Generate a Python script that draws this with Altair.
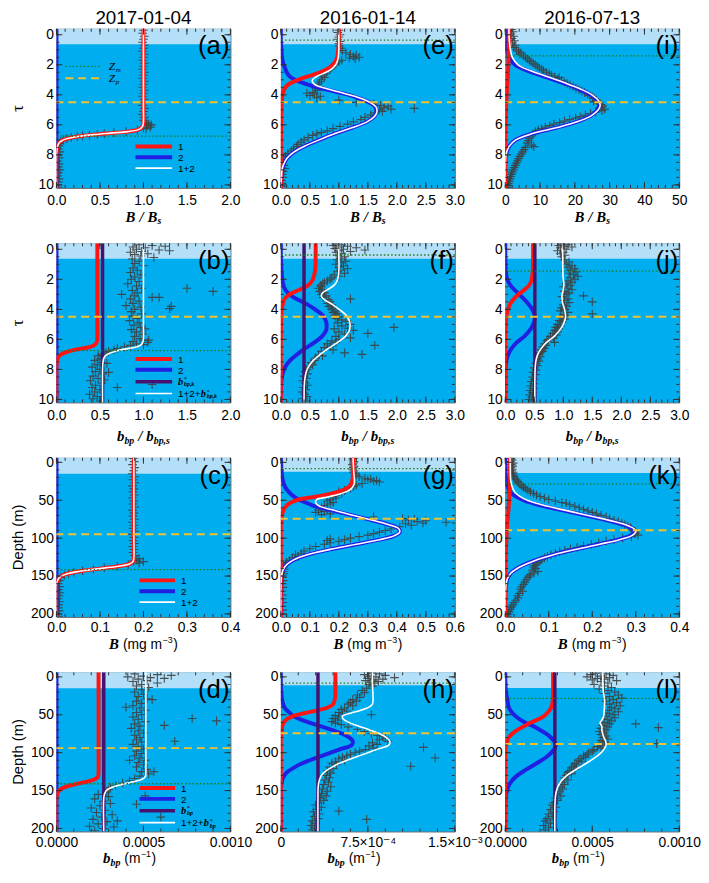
import altair as alt
import pandas as pd

SANS = "Liberation Sans, Arial, DejaVu Sans"
SERIF = "Liberation Serif, Times New Roman, DejaVu Serif"
BG = "#00AEEF"
BAND = "#B3E0F8"
RED = "#FF1414"
BLUE = "#2020E4"
PURPLE = "#46126E"
GREY = "#404040"
ZM_C = "#1F7A1F"
ZP_C = "#F2C12E"
TICK = "#303030"
W, H = 176, 161
LF = 10  # legend label font size

COL_TITLES = ["2017-01-04", "2016-01-14", "2016-07-13"]

# ---------------- data: (y, red=1, blue=2, white=1+2[+b*]) ----------------
a_curve = [(-0.4, 1.0, 0.0, 1.0), (1.0, 1.0, 0.0, 1.0), (3.0, 1.0, 0.0, 1.0), (5.0, 1.0, 0.0, 1.0),
           (5.8, 1.0, 0.0, 1.0), (6.1, 0.99, 0.0, 0.99), (6.3, 0.95, 0.0, 0.95), (6.45, 0.82, 0.0, 0.82),
           (6.55, 0.62, 0.0, 0.62), (6.65, 0.43, 0.0, 0.43), (6.75, 0.28, 0.0, 0.28), (6.85, 0.17, 0.0, 0.17),
           (7.0, 0.08, 0.0, 0.08), (7.2, 0.03, 0.0, 0.03), (7.5, 0.01, 0.0, 0.01), (8.0, 0.0, 0.0, 0.0),
           (10.2, 0.0, 0.0, 0.0)]
a_pts = [(-0.3, 1.0), (-0.1, 0.99), (0.1, 1.01), (0.3, 1.0), (0.5, 0.99), (0.7, 1.01), (0.9, 1.0), (1.1, 0.99),
         (1.3, 1.01), (1.5, 1.0), (1.7, 0.99), (1.9, 1.01), (2.1, 1.0), (2.3, 0.99), (2.5, 1.01), (2.7, 1.0),
         (2.9, 0.99), (3.1, 1.01), (3.3, 1.0), (3.5, 0.99), (3.7, 1.01), (3.9, 1.0), (4.1, 0.99), (4.3, 1.01),
         (4.5, 1.0), (4.7, 0.99), (4.9, 1.01), (5.1, 1.0), (5.3, 0.99), (5.5, 1.01), (5.7, 1.0), (5.85, 1.03),
         (5.95, 1.06), (6.05, 1.04), (6.15, 1.08), (6.25, 1.03), (6.0, 1.09), (6.2, 1.0), (6.35, 0.93),
         (6.45, 0.8), (6.52, 0.66), (6.58, 0.55), (6.63, 0.47), (6.68, 0.38), (6.73, 0.3), (6.78, 0.24),
         (6.85, 0.17), (6.92, 0.12), (7.0, 0.08), (7.1, 0.05), (7.25, 0.04), (7.4, 0.03), (7.6, 0.02),
         (7.8, 0.04), (8.0, 0.02), (8.2, 0.03), (8.4, 0.01), (8.6, 0.03), (8.8, 0.02), (9.0, 0.04), (9.2, 0.02),
         (9.4, 0.01), (9.6, 0.03), (9.8, 0.02), (10.0, 0.01), (10.15, 0.02)]

b_kval = 0.53
b_curve = [(-0.4, 0.47, 0.0, 1.0), (1.0, 0.47, 0.0, 1.0), (3.0, 0.47, 0.0, 1.0), (5.0, 0.47, 0.0, 1.0),
           (5.9, 0.47, 0.0, 1.0), (6.15, 0.465, 0.0, 0.995), (6.35, 0.445, 0.0, 0.975), (6.5, 0.39, 0.0, 0.92),
           (6.6, 0.3, 0.0, 0.83), (6.7, 0.21, 0.0, 0.74), (6.8, 0.14, 0.0, 0.67), (6.9, 0.09, 0.0, 0.62),
           (7.05, 0.04, 0.0, 0.57), (7.25, 0.015, 0.0, 0.545), (7.5, 0.005, 0.0, 0.535), (8.0, 0.0, 0.0, 0.53),
           (10.2, 0.0, 0.0, 0.53)]
b_pts = [(-0.3, 0.95), (-0.25, 1.1), (-0.2, 1.25), (-0.15, 0.88), (-0.1, 1.02), (0.0, 0.92), (0.05, 1.18),
         (0.1, 1.3), (0.15, 0.98), (0.2, 0.85), (0.3, 1.05), (0.35, 0.9), (0.45, 0.97), (0.55, 1.12), (0.65, 0.87),
         (0.8, 0.95), (0.95, 0.9), (1.1, 1.0), (1.25, 0.88), (1.4, 0.93), (1.55, 0.85), (1.7, 0.97), (1.85, 0.9),
         (2.0, 0.86), (2.15, 0.95), (2.3, 0.82), (2.45, 0.92), (2.6, 0.98), (2.75, 0.87), (2.9, 0.93), (3.0, 0.75),
         (3.1, 0.9), (3.2, 1.1), (3.3, 0.85), (3.45, 0.95), (3.6, 0.88), (3.75, 0.8), (3.85, 0.97), (4.0, 0.9),
         (4.15, 0.86), (4.3, 0.98), (4.45, 0.88), (4.6, 0.93), (4.75, 0.84), (4.9, 0.95), (5.05, 0.89), (5.2, 0.97),
         (5.35, 0.86), (5.5, 0.92), (5.65, 0.99), (5.8, 0.9), (5.95, 0.96), (6.05, 1.0), (6.15, 0.88),
         (2.6, 1.5), (2.8, 1.8), (3.2, 1.18), (3.8, 1.32), (3.95, 1.3), (5.3, 1.02), (6.05, 1.06), (6.2, 1.05),
         (6.35, 1.0), (6.3, 0.92), (6.4, 0.85), (6.5, 0.78), (6.6, 0.7), (6.7, 0.66), (6.8, 0.6), (6.9, 0.57),
         (7.0, 0.52), (7.1, 0.48), (7.3, 0.5), (7.4, 0.44), (7.55, 0.52), (7.7, 0.47), (7.85, 0.41), (8.0, 0.5),
         (8.15, 0.45), (8.3, 0.53), (8.45, 0.42), (8.6, 0.48), (8.75, 0.39), (8.9, 0.52), (9.05, 0.45), (9.2, 0.41),
         (9.35, 0.5), (9.5, 0.44), (9.65, 0.38), (9.8, 0.47), (9.95, 0.42), (10.1, 0.5), (7.6, 0.58), (8.2, 0.6),
         (9.0, 1.1), (9.2, 0.7), (8.7, 0.55)]

c_curve = [(-6, 0.178, 0.0, 0.178), (50, 0.178, 0.0, 0.178), (100, 0.178, 0.0, 0.178), (126, 0.178, 0.0, 0.178),
           (131, 0.176, 0.0, 0.176), (134, 0.168, 0.0, 0.168), (136.5, 0.15, 0.0, 0.15), (138.5, 0.125, 0.0, 0.125),
           (140.5, 0.095, 0.0, 0.095), (142.5, 0.068, 0.0, 0.068), (144.5, 0.045, 0.0, 0.045), (147, 0.025, 0.0, 0.025),
           (150, 0.011, 0.0, 0.011), (154, 0.004, 0.0, 0.004), (160, 0.0, 0.0, 0.0), (204, 0.0, 0.0, 0.0)]
c_pts = [(-5, 0.176), (-1, 0.179), (3, 0.175), (7, 0.18), (11, 0.177), (15, 0.174), (19, 0.179), (23, 0.176),
         (27, 0.18), (31, 0.175), (35, 0.178), (39, 0.176), (43, 0.179), (47, 0.175), (51, 0.178), (55, 0.176),
         (59, 0.18), (63, 0.175), (67, 0.178), (71, 0.176), (75, 0.179), (79, 0.175), (83, 0.178), (87, 0.176),
         (91, 0.18), (95, 0.175), (99, 0.178), (103, 0.176), (107, 0.179), (111, 0.175), (115, 0.178), (119, 0.176),
         (123, 0.18), (127, 0.19), (129, 0.185), (131, 0.2), (133, 0.19), (130, 0.178), (135, 0.165), (137, 0.14),
         (139, 0.11), (141, 0.085), (143, 0.06), (145, 0.04), (147, 0.028), (149, 0.018), (152, 0.01), (156, 0.006),
         (160, 0.004), (164, 0.007), (168, 0.005), (172, 0.008), (176, 0.006), (180, 0.004), (184, 0.007),
         (188, 0.005), (192, 0.004), (196, 0.006), (200, 0.003), (203, 0.005)]

d_kval = 0.000272
d_curve = [(-6, 0.000242, 0.0, 0.000514), (50, 0.000242, 0.0, 0.000514), (100, 0.000242, 0.0, 0.000514),
           (126, 0.000242, 0.0, 0.000514), (131, 0.00024, 0.0, 0.000512), (134, 0.000229, 0.0, 0.000501),
           (136.5, 0.000204, 0.0, 0.000476), (138.5, 0.00017, 0.0, 0.000442), (140.5, 0.000129, 0.0, 0.000401),
           (142.5, 0.000093, 0.0, 0.000365), (144.5, 0.000061, 0.0, 0.000333), (147, 0.000034, 0.0, 0.000306),
           (150, 0.000015, 0.0, 0.000287), (154, 0.000005, 0.0, 0.000277), (160, 0.0, 0.0, 0.000272),
           (204, 0.0, 0.0, 0.000272)]
d_pts = [(-4, 0.00045), (-3, 0.00058), (-2, 0.00066), (-1, 0.0005), (0, 0.00041), (1, 0.00054), (2, 0.00062),
         (3, 0.00047), (5, 0.00052), (6, 0.00044), (8, 0.00058), (10, 0.00049), (12, 0.00046), (14, 0.00053),
         (17, 0.00049), (20, 0.00045), (23, 0.0005), (26, 0.00047), (29, 0.00052), (32, 0.00046), (35, 0.00049),
         (38, 0.00044), (41, 0.00048), (44, 0.00051), (47, 0.00046), (50, 0.00049), (53, 0.00044), (56, 0.00047),
         (59, 0.00051), (62, 0.00045), (65, 0.00048), (68, 0.00043), (71, 0.00047), (74, 0.0005), (77, 0.00045),
         (80, 0.00048), (83, 0.00046), (86, 0.00049), (89, 0.00044), (92, 0.00047), (95, 0.0005), (98, 0.00046),
         (101, 0.00049), (104, 0.00045), (107, 0.00048), (110, 0.00051), (113, 0.00047), (116, 0.0005),
         (119, 0.00046), (122, 0.00052), (125, 0.00049), (128, 0.00053), (131, 0.00048), (30, 0.00055),
         (55, 0.00078), (58, 0.00092), (64, 0.00062), (85, 0.00068), (40, 0.0004), (110, 0.00042), (125, 0.00056),
         (157, 0.00051), (185, 0.0006), (168, 0.00046), (134, 0.00045), (137, 0.00042), (140, 0.00038),
         (143, 0.00034), (146, 0.00031), (149, 0.0003), (152, 0.00029), (155, 0.00024), (158, 0.0003),
         (161, 0.00022), (164, 0.00027), (167, 0.00031), (170, 0.00025), (173, 0.0002), (176, 0.00028),
         (179, 0.00023), (182, 0.00032), (185, 0.00026), (188, 0.00021), (191, 0.00029), (194, 0.00024),
         (197, 0.00019), (200, 0.00027), (203, 0.00022), (190, 0.00035), (198, 0.00033)]

e_curve = [(-0.4, 1.0, 0.0, 1.0), (0.5, 1.0, 0.0, 1.0), (1.0, 0.99, 0.01, 1.0), (1.5, 0.97, 0.02, 0.99),
           (1.9, 0.92, 0.04, 0.96), (2.2, 0.83, 0.07, 0.9), (2.5, 0.68, 0.1, 0.78), (2.77, 0.47, 0.15, 0.62),
           (3.05, 0.27, 0.27, 0.54), (3.3, 0.13, 0.45, 0.58), (3.55, 0.07, 0.68, 0.75), (3.8, 0.04, 0.95, 0.99),
           (4.1, 0.025, 1.25, 1.275), (4.5, 0.015, 1.52, 1.535), (4.8, 0.01, 1.63, 1.64), (5.1, 0.008, 1.65, 1.658),
           (5.4, 0.006, 1.62, 1.626), (5.8, 0.005, 1.48, 1.485), (6.2, 0.004, 1.22, 1.224), (6.6, 0.003, 0.92, 0.923),
           (7.0, 0.002, 0.66, 0.662), (7.4, 0.001, 0.42, 0.421), (7.8, 0.0, 0.23, 0.23), (8.2, 0.0, 0.11, 0.11),
           (8.6, 0.0, 0.05, 0.05), (9.0, 0.0, 0.02, 0.02), (9.5, 0.0, 0.01, 0.01), (10.2, 0.0, 0.0, 0.0)]
e_pts = [(-0.3, 1.0), (-0.15, 0.98), (0.0, 1.02), (0.15, 1.0), (0.3, 0.98), (0.45, 1.02), (0.6, 1.0), (0.75, 1.01),
         (0.9, 1.03), (1.05, 1.06), (1.2, 1.12), (1.3, 1.2), (1.35, 1.3), (1.45, 1.25), (1.5, 1.35), (1.55, 1.18),
         (1.6, 1.28), (1.7, 1.05), (1.8, 1.0), (1.9, 0.95), (2.0, 0.93), (2.15, 0.88), (2.3, 0.85), (2.45, 0.8),
         (2.6, 0.78), (2.75, 0.72), (2.85, 0.75), (3.0, 0.7), (3.15, 0.67), (3.3, 0.64), (3.45, 0.66), (3.55, 0.6),
         (3.7, 0.63), (3.85, 0.55), (3.95, 0.58), (4.05, 0.5), (4.1, 0.68), (4.2, 0.62), (3.9, 0.45), (4.35, 1.0),
         (4.5, 1.3), (4.6, 1.6), (4.7, 1.72), (4.75, 1.85), (4.85, 1.78), (4.9, 2.3), (4.95, 1.9), (5.0, 1.7),
         (5.1, 1.75), (5.2, 1.62), (5.35, 1.55), (5.5, 1.45), (5.65, 1.38), (5.8, 1.25), (5.95, 1.15), (6.1, 1.02),
         (6.25, 0.9), (6.4, 0.8), (6.5, 0.7), (6.6, 0.62), (6.7, 0.55), (6.85, 0.47), (7.0, 0.4), (7.15, 0.35),
         (7.3, 0.3), (7.45, 0.27), (7.6, 0.22), (7.75, 0.18), (7.9, 0.12), (8.1, 0.08), (8.3, 0.05), (8.5, 0.03),
         (8.7, 0.05), (8.9, 0.07), (9.1, 0.04), (9.3, 0.02), (9.5, 0.03), (9.7, 0.01), (9.9, 0.02), (10.1, 0.01)]

f_kval = 0.4
f_curve = [(-0.4, 0.6, 0.0, 1.0), (0.5, 0.6, 0.0, 1.0), (1.0, 0.598, 0.005, 1.003), (1.4, 0.59, 0.01, 1.0),
           (1.8, 0.57, 0.02, 0.99), (2.1, 0.54, 0.03, 0.97), (2.4, 0.47, 0.045, 0.915), (2.65, 0.35, 0.07, 0.82),
           (2.9, 0.2, 0.12, 0.72), (3.15, 0.1, 0.2, 0.7), (3.4, 0.05, 0.32, 0.77), (3.7, 0.03, 0.47, 0.9),
           (4.0, 0.015, 0.59, 1.005), (4.4, 0.008, 0.72, 1.128), (4.8, 0.004, 0.78, 1.184), (5.1, 0.003, 0.79, 1.193),
           (5.4, 0.002, 0.78, 1.182), (5.8, 0.001, 0.71, 1.111), (6.2, 0.0, 0.58, 0.98), (6.6, 0.0, 0.42, 0.82),
           (7.0, 0.0, 0.28, 0.68), (7.4, 0.0, 0.16, 0.56), (7.8, 0.0, 0.08, 0.48), (8.2, 0.0, 0.035, 0.435),
           (8.6, 0.0, 0.015, 0.415), (9.0, 0.0, 0.005, 0.405), (10.2, 0.0, 0.0, 0.4)]
f_pts = [(-0.35, 0.95), (-0.3, 1.05), (-0.25, 0.9), (-0.2, 1.15), (-0.15, 1.0), (-0.1, 1.3), (-0.05, 0.93),
         (0.0, 1.08), (0.05, 1.45), (0.1, 1.0), (0.15, 1.2), (0.2, 0.95), (0.3, 1.05), (0.4, 0.98), (0.5, 1.1),
         (0.6, 1.02), (0.7, 0.97), (0.8, 1.12), (0.9, 1.05), (1.0, 0.95), (1.1, 1.08), (1.2, 1.0), (1.3, 1.15),
         (1.4, 1.02), (1.5, 0.98), (1.6, 1.1), (1.7, 0.92), (1.8, 1.0), (1.9, 0.88), (2.0, 0.85), (2.1, 0.8),
         (2.2, 0.75), (2.3, 0.72), (2.4, 0.68), (2.5, 0.7), (2.6, 0.65), (2.7, 0.72), (2.8, 0.67), (2.9, 0.75),
         (3.0, 0.7), (3.1, 0.78), (3.2, 0.73), (3.3, 1.2), (3.35, 0.82), (3.5, 0.85), (3.6, 0.8), (3.7, 0.88),
         (3.8, 0.83), (3.9, 0.9), (4.0, 0.87), (4.1, 0.95), (4.2, 0.9), (4.3, 0.98), (4.4, 0.93), (4.5, 1.0),
         (4.6, 0.95), (4.7, 1.05), (4.8, 1.12), (4.9, 0.98), (5.0, 1.2), (5.1, 1.05), (5.2, 1.95), (5.25, 1.15),
         (5.3, 0.92), (5.4, 1.25), (5.5, 1.0), (5.6, 1.5), (5.65, 1.1), (5.8, 0.95), (5.9, 1.2), (6.0, 1.0),
         (6.1, 0.88), (6.2, 0.95), (6.3, 0.8), (6.4, 1.62), (6.45, 0.85), (6.55, 0.75), (6.7, 0.9), (6.8, 0.7),
         (6.9, 1.1), (7.0, 1.4), (7.05, 0.65), (7.1, 0.72), (7.25, 0.6), (7.4, 0.58), (7.55, 0.52), (7.7, 0.55),
         (7.85, 0.48), (8.0, 0.45), (8.15, 0.42), (8.3, 0.46), (8.45, 0.4), (8.6, 0.44), (8.75, 0.38), (8.9, 0.42),
         (9.05, 0.46), (9.2, 0.39), (9.35, 0.43), (9.5, 0.37), (9.65, 0.41), (9.8, 0.45), (9.95, 0.38), (10.1, 0.42)]

g_curve = [(-6, 0.249, 0.0, 0.249), (10, 0.249, 0.002, 0.251), (20, 0.248, 0.005, 0.253), (28, 0.243, 0.01, 0.253),
           (34, 0.228, 0.017, 0.245), (38, 0.205, 0.025, 0.23), (42, 0.165, 0.035, 0.2), (46, 0.11, 0.048, 0.158),
           (49, 0.062, 0.062, 0.124), (53, 0.035, 0.085, 0.12), (57, 0.02, 0.11, 0.13), (62, 0.01, 0.16, 0.17),
           (68, 0.005, 0.225, 0.23), (75, 0.002, 0.3, 0.302), (82, 0.0, 0.37, 0.37), (87, 0.0, 0.405, 0.405),
           (92, 0.0, 0.41, 0.41), (97, 0.0, 0.39, 0.39), (102, 0.0, 0.34, 0.34), (108, 0.0, 0.26, 0.26),
           (114, 0.0, 0.18, 0.18), (120, 0.0, 0.11, 0.11), (126, 0.0, 0.06, 0.06), (132, 0.0, 0.03, 0.03),
           (138, 0.0, 0.013, 0.013), (145, 0.0, 0.005, 0.005), (155, 0.0, 0.001, 0.001), (204, 0.0, 0.0, 0.0)]
g_pts = [(-5, 0.25), (-3, 0.248), (-1, 0.252), (1, 0.25), (3, 0.247), (5, 0.252), (7, 0.25), (9, 0.248),
         (11, 0.252), (13, 0.25), (15, 0.255), (17, 0.26), (19, 0.27), (21, 0.29), (22, 0.31), (23, 0.3), (24, 0.33),
         (25, 0.32), (26, 0.34), (28, 0.28), (30, 0.26), (32, 0.25), (34, 0.24), (37, 0.22), (39, 0.2), (41, 0.21),
         (43, 0.19), (45, 0.18), (47, 0.19), (49, 0.17), (51, 0.16), (53, 0.18), (55, 0.17), (57, 0.15), (60, 0.14),
         (62, 0.16), (63, 0.13), (65, 0.15), (66, 0.12), (68, 0.17), (69, 0.14), (72, 0.32), (74, 0.42), (75, 0.46),
         (76, 0.44), (77, 0.5), (78, 0.47), (79, 0.57), (80, 0.49), (81, 0.43), (83, 0.45), (85, 0.41), (88, 0.38),
         (90, 0.36), (92, 0.34), (94, 0.32), (96, 0.3), (98, 0.27), (100, 0.24), (101, 0.17), (102, 0.22),
         (103, 0.16), (104, 0.2), (106, 0.17), (108, 0.15), (111, 0.12), (114, 0.1), (117, 0.08), (120, 0.07),
         (122, 0.05), (124, 0.06), (126, 0.04), (129, 0.03), (132, 0.02), (135, 0.015), (138, 0.01), (141, 0.012),
         (144, 0.008), (147, 0.01), (152, 0.006), (156, 0.008), (160, 0.005), (165, 0.007), (170, 0.004),
         (175, 0.006), (180, 0.005), (185, 0.007), (190, 0.004), (195, 0.006), (200, 0.005)]

h_kval = 0.00032
h_curve = [(-6, 0.00047, 0.0, 0.00079), (10, 0.00047, 0.0, 0.00079), (20, 0.00047, 0.000003, 0.000793),
           (30, 0.000465, 0.00001, 0.000795), (36, 0.00045, 0.00002, 0.00079), (40, 0.00041, 0.00003, 0.00076),
           (44, 0.00032, 0.00005, 0.00069), (48, 0.0002, 0.00008, 0.0006), (52, 0.0001, 0.00011, 0.00053),
           (56, 0.00005, 0.00017, 0.00054), (60, 0.000025, 0.00024, 0.000585), (65, 0.000012, 0.00034, 0.000672),
           (70, 0.000006, 0.00044, 0.000766), (75, 0.000003, 0.00053, 0.000853), (80, 0.0, 0.00059, 0.00091),
           (85, 0.0, 0.00062, 0.00094), (90, 0.0, 0.00061, 0.00093), (95, 0.0, 0.00052, 0.00084),
           (100, 0.0, 0.00043, 0.00075), (105, 0.0, 0.00034, 0.00066), (110, 0.0, 0.00025, 0.00057),
           (115, 0.0, 0.00017, 0.00049), (120, 0.0, 0.00011, 0.00043), (125, 0.0, 0.00006, 0.00038),
           (130, 0.0, 0.00003, 0.00035), (136, 0.0, 0.000012, 0.000332), (145, 0.0, 0.000002, 0.000322),
           (160, 0.0, 0.0, 0.00032), (204, 0.0, 0.0, 0.00032)]
h_pts = [(-5, 0.00078), (-4, 0.00085), (-3, 0.00072), (-2, 0.0009), (-1, 0.00076), (0, 0.00082), (1, 0.00098),
         (2, 0.00075), (3, 0.00088), (4, 0.0008), (5, 0.00073), (6, 0.00084), (7, 0.00077), (8, 0.00081),
         (10, 0.00076), (12, 0.00079), (15, 0.00074), (18, 0.0007), (21, 0.00072), (24, 0.00066), (27, 0.00068),
         (30, 0.00062), (32, 0.00065), (34, 0.0006), (36, 0.00058), (38, 0.00062), (41, 0.00055), (43, 0.00052),
         (45, 0.00057), (47, 0.0005), (49, 0.00053), (50, 0.00078), (51, 0.00047), (53, 0.0005), (55, 0.00045),
         (57, 0.00049), (59, 0.00044), (61, 0.00047), (63, 0.00052), (66, 0.00058), (69, 0.00066), (72, 0.00072),
         (75, 0.00078), (77, 0.00083), (79, 0.00088), (81, 0.0009), (83, 0.00085), (85, 0.00092), (87, 0.00079),
         (89, 0.00083), (91, 0.00076), (93, 0.00123), (94, 0.0008), (96, 0.00073), (98, 0.00068), (100, 0.00064),
         (102, 0.0006), (104, 0.00057), (106, 0.00053), (107, 0.00133), (108, 0.0005), (110, 0.00055),
         (112, 0.00047), (114, 0.00044), (116, 0.00048), (118, 0.00112), (119, 0.00042), (121, 0.00045),
         (124, 0.0004), (127, 0.00043), (130, 0.00039), (133, 0.00042), (136, 0.00038), (139, 0.00041),
         (142, 0.00037), (145, 0.00043), (148, 0.00036), (151, 0.0004), (154, 0.00035), (157, 0.00039),
         (160, 0.00034), (163, 0.00037), (166, 0.00033), (169, 0.0003), (172, 0.00035), (175, 0.00031),
         (177, 0.0005), (178, 0.00028), (181, 0.00033), (184, 0.00029), (187, 0.00032), (188, 0.00074),
         (190, 0.00027), (193, 0.0003), (196, 0.00026), (199, 0.00029), (202, 0.00027)]

i_curve = [(-0.4, 1.0, 0.05, 1.05), (0.5, 1.0, 0.2, 1.2), (1.0, 0.98, 0.5, 1.48), (1.5, 0.95, 1.1, 2.05),
           (2.0, 0.88, 2.8, 3.68), (2.4, 0.8, 6.5, 7.3), (2.8, 0.7, 11.5, 12.2), (3.2, 0.6, 16.5, 17.1),
           (3.6, 0.5, 21.0, 21.5), (4.0, 0.42, 24.5, 24.92), (4.4, 0.34, 26.5, 26.84), (4.7, 0.28, 27.0, 27.28),
           (5.0, 0.23, 26.5, 26.73), (5.4, 0.17, 24.5, 24.67), (5.8, 0.12, 20.5, 20.62), (6.2, 0.08, 14.5, 14.58),
           (6.6, 0.05, 7.5, 7.55), (7.0, 0.03, 3.0, 3.03), (7.4, 0.02, 1.2, 1.22), (7.8, 0.01, 0.4, 0.41),
           (8.2, 0.005, 0.1, 0.105), (9.0, 0.0, 0.0, 0.0), (10.2, 0.0, 0.0, 0.0)]
i_pts = [(-0.35, 1.8), (-0.2, 2.2), (-0.05, 1.6), (0.1, 2.4), (0.25, 1.9), (0.4, 2.6), (0.55, 2.1), (0.7, 2.8),
         (0.85, 2.4), (1.0, 3.2), (1.1, 3.8), (1.2, 4.5), (1.3, 4.2), (1.4, 5.2), (1.5, 5.8), (1.6, 6.3), (1.7, 6.9),
         (1.8, 7.4), (1.9, 8.0), (2.0, 8.6), (2.1, 9.2), (2.2, 9.8), (2.3, 10.5), (2.4, 11.0), (2.5, 11.8),
         (2.6, 12.6), (2.7, 13.3), (2.8, 14.2), (2.85, 15.5), (2.95, 15.0), (3.05, 16.2), (3.15, 17.0), (3.25, 17.8),
         (3.35, 18.6), (3.45, 19.5), (3.55, 20.3), (3.65, 21.2), (3.75, 22.0), (3.85, 22.8), (3.95, 23.6),
         (4.05, 24.3), (4.15, 25.0), (4.25, 25.6), (4.35, 26.2), (4.45, 25.4), (4.55, 26.8), (4.65, 27.5),
         (4.75, 28.0), (4.85, 27.2), (4.95, 28.6), (5.05, 27.8), (5.15, 26.0), (5.25, 24.5), (5.35, 23.0),
         (5.45, 21.5), (5.55, 20.2), (5.65, 18.5), (5.75, 17.0), (5.85, 15.6), (5.95, 14.0), (6.05, 12.8),
         (6.15, 11.5), (6.25, 10.4), (6.35, 9.5), (6.45, 8.7), (6.6, 8.0), (6.75, 7.4), (6.9, 6.9), (7.05, 6.6),
         (7.2, 6.3), (7.35, 7.6), (7.45, 8.2), (7.5, 5.8), (7.65, 5.4), (7.8, 5.0), (7.95, 4.6), (8.1, 4.2),
         (8.25, 3.8), (8.4, 3.5), (8.55, 3.2), (8.7, 2.9), (8.85, 2.6), (9.0, 2.3), (9.15, 2.0), (9.3, 1.8),
         (9.45, 1.5), (9.6, 1.3), (9.75, 1.1), (9.9, 0.9), (10.05, 0.7), (10.15, 0.6)]

j_kval = 0.51
j_curve = [(-0.4, 0.48, 0.0, 0.99), (0.5, 0.48, 0.0, 0.99), (1.0, 0.478, 0.003, 0.991), (1.4, 0.475, 0.008, 0.993),
           (1.8, 0.465, 0.02, 0.995), (2.1, 0.45, 0.045, 1.005), (2.4, 0.41, 0.09, 1.01), (2.7, 0.33, 0.16, 1.0),
           (3.0, 0.23, 0.24, 0.98), (3.3, 0.15, 0.32, 0.98), (3.6, 0.09, 0.39, 0.99), (3.9, 0.055, 0.45, 1.015),
           (4.2, 0.032, 0.49, 1.032), (4.5, 0.02, 0.51, 1.04), (4.8, 0.012, 0.5, 1.022), (5.1, 0.008, 0.47, 0.988),
           (5.4, 0.005, 0.42, 0.935), (5.8, 0.003, 0.33, 0.843), (6.2, 0.002, 0.2, 0.712), (6.6, 0.001, 0.11, 0.621),
           (7.0, 0.0, 0.05, 0.56), (7.4, 0.0, 0.02, 0.53), (7.8, 0.0, 0.008, 0.518), (8.2, 0.0, 0.003, 0.513),
           (9.0, 0.0, 0.0, 0.51), (10.2, 0.0, 0.0, 0.51)]
j_pts = [(-0.35, 0.98), (-0.3, 1.08), (-0.25, 0.92), (-0.2, 1.02), (-0.15, 1.15), (-0.1, 0.95), (0.0, 1.05),
         (0.1, 0.9), (0.2, 1.0), (0.3, 0.95), (0.4, 1.03), (0.5, 0.97), (0.7, 1.02), (0.85, 1.1), (1.0, 1.05),
         (1.1, 1.15), (1.2, 1.08), (1.3, 1.2), (1.4, 1.12), (1.5, 1.22), (1.6, 1.1), (1.7, 1.18), (1.8, 1.25),
         (1.9, 1.12), (2.0, 1.2), (2.1, 1.08), (2.2, 1.15), (2.3, 1.05), (2.4, 1.12), (2.5, 1.0), (2.6, 1.08),
         (2.7, 1.15), (2.8, 1.02), (2.9, 1.1), (3.0, 1.05), (3.1, 1.35), (3.15, 0.98), (3.3, 1.08), (3.4, 1.02),
         (3.5, 1.5), (3.55, 1.1), (3.7, 1.0), (3.8, 1.06), (3.9, 0.97), (4.0, 1.03), (4.1, 0.95), (4.2, 1.08),
         (4.3, 1.5), (4.35, 1.0), (4.45, 1.05), (4.55, 0.96), (4.65, 1.02), (4.75, 0.93), (4.85, 0.98), (5.0, 0.9),
         (5.1, 0.95), (5.2, 0.87), (5.3, 0.92), (5.4, 0.85), (5.5, 0.9), (5.6, 0.82), (5.7, 0.88), (5.8, 0.78),
         (5.9, 0.83), (6.0, 0.74), (6.1, 0.72), (6.2, 0.85), (6.3, 0.68), (6.4, 0.7), (6.5, 0.65), (6.6, 0.67),
         (6.7, 0.62), (6.8, 0.64), (6.9, 0.6), (7.0, 0.58), (7.15, 0.6), (7.3, 0.56), (7.45, 0.58), (7.6, 0.53),
         (7.75, 0.55), (7.9, 0.5), (8.05, 0.53), (8.2, 0.48), (8.35, 0.52), (8.5, 0.47), (8.65, 0.5), (8.8, 0.45),
         (8.95, 0.49), (9.1, 0.44), (9.25, 0.48), (9.4, 0.43), (9.55, 0.47), (9.7, 0.42), (9.85, 0.46), (10.0, 0.41),
         (10.1, 0.47)]

k_curve = [(-6, 0.011, 0.0, 0.011), (10, 0.011, 0.0005, 0.0115), (20, 0.011, 0.001, 0.012), (30, 0.0105, 0.004, 0.0145),
           (40, 0.01, 0.013, 0.023), (50, 0.009, 0.042, 0.051), (58, 0.008, 0.09, 0.098), (65, 0.007, 0.145, 0.152),
           (72, 0.006, 0.2, 0.206), (78, 0.005, 0.245, 0.25), (84, 0.004, 0.28, 0.284), (90, 0.0035, 0.297, 0.3005),
           (96, 0.003, 0.29, 0.293), (102, 0.0025, 0.26, 0.2625), (108, 0.002, 0.215, 0.217), (115, 0.0015, 0.16, 0.1615),
           (122, 0.001, 0.11, 0.111), (130, 0.0007, 0.065, 0.0657), (138, 0.0004, 0.033, 0.0334),
           (146, 0.0002, 0.013, 0.0132), (155, 0.0001, 0.004, 0.0041), (165, 0.0, 0.001, 0.001), (204, 0.0, 0.0, 0.0)]
k_pts = [(-5, 0.013), (-3, 0.016), (-1, 0.012), (1, 0.018), (3, 0.014), (5, 0.017), (7, 0.013), (9, 0.016),
         (11, 0.015), (13, 0.018), (15, 0.016), (17, 0.019), (19, 0.02), (21, 0.022), (23, 0.025), (25, 0.028),
         (27, 0.03), (29, 0.034), (31, 0.038), (33, 0.042), (35, 0.047), (37, 0.052), (39, 0.058), (41, 0.065),
         (43, 0.072), (45, 0.08), (47, 0.09), (49, 0.1), (51, 0.115), (53, 0.13), (54, 0.14), (56, 0.148),
         (58, 0.16), (60, 0.17), (62, 0.18), (64, 0.19), (66, 0.2), (68, 0.21), (70, 0.22), (72, 0.232), (74, 0.24),
         (76, 0.25), (78, 0.26), (80, 0.268), (82, 0.275), (84, 0.282), (86, 0.288), (88, 0.29), (90, 0.295),
         (92, 0.3), (94, 0.298), (96, 0.305), (98, 0.29), (100, 0.27), (102, 0.25), (104, 0.232), (106, 0.215),
         (108, 0.198), (110, 0.18), (112, 0.165), (114, 0.15), (116, 0.137), (118, 0.125), (120, 0.115),
         (122, 0.105), (124, 0.097), (126, 0.09), (128, 0.084), (130, 0.08), (132, 0.075), (134, 0.071),
         (136, 0.068), (138, 0.065), (140, 0.07), (142, 0.062), (144, 0.075), (146, 0.066), (148, 0.058),
         (150, 0.055), (152, 0.052), (155, 0.048), (158, 0.045), (161, 0.042), (164, 0.038), (167, 0.035),
         (170, 0.04), (173, 0.032), (176, 0.028), (179, 0.03), (182, 0.024), (185, 0.02), (188, 0.018),
         (191, 0.014), (194, 0.011), (197, 0.009), (200, 0.007), (203, 0.005)]

l_kval = 0.000285
l_curve = [(-6, 0.000275, 0.0, 0.00056), (10, 0.000275, 0.000001, 0.000561), (20, 0.000275, 0.000004, 0.000564),
           (30, 0.000274, 0.000012, 0.000571), (40, 0.000265, 0.00002, 0.00057), (46, 0.000248, 0.000035, 0.000568),
           (52, 0.00022, 0.00006, 0.000565), (57, 0.00018, 0.00009, 0.000555), (61, 0.00014, 0.00012, 0.000545),
           (65, 0.00011, 0.00016, 0.000555), (70, 0.00007, 0.0002, 0.000555), (75, 0.00004, 0.000235, 0.00056),
           (80, 0.00002, 0.000262, 0.000567), (85, 0.00001, 0.000282, 0.000577), (89, 0.000005, 0.00029, 0.00058),
           (94, 0.000002, 0.000285, 0.000572), (100, 0.000001, 0.000265, 0.000551), (106, 0.0, 0.000235, 0.00052),
           (112, 0.0, 0.000195, 0.00048), (118, 0.0, 0.000152, 0.000437), (124, 0.0, 0.000108, 0.000393),
           (130, 0.0, 0.00007, 0.000355), (137, 0.0, 0.000038, 0.000323), (145, 0.0, 0.000017, 0.000302),
           (155, 0.0, 0.000005, 0.00029), (165, 0.0, 0.000001, 0.000286), (204, 0.0, 0.0, 0.000285)]
l_pts = [(-5, 0.00052), (-4, 0.00058), (-3, 0.00049), (-2, 0.00062), (-1, 0.00055), (0, 0.00047), (1, 0.0006),
         (2, 0.00053), (3, 0.00057), (4, 0.0005), (5, 0.00064), (6, 0.00055), (8, 0.00059), (10, 0.00051),
         (12, 0.00057), (14, 0.00061), (16, 0.00054), (18, 0.00059), (20, 0.00063), (22, 0.00057), (24, 0.00065),
         (26, 0.0006), (28, 0.00067), (30, 0.00062), (32, 0.00058), (34, 0.00064), (36, 0.0006), (38, 0.00066),
         (40, 0.00061), (42, 0.00063), (44, 0.00059), (46, 0.00065), (48, 0.0006), (50, 0.00062), (52, 0.00058),
         (54, 0.00063), (56, 0.00059), (58, 0.00061), (60, 0.00057), (62, 0.00075), (67, 0.00088), (88, 0.00087),
         (62, 0.0006), (64, 0.00056), (66, 0.00059), (68, 0.00055), (70, 0.00058), (72, 0.00054), (74, 0.00057),
         (76, 0.00055), (78, 0.00058), (80, 0.00056), (82, 0.00059), (84, 0.00055), (86, 0.00057), (88, 0.00054),
         (90, 0.00056), (92, 0.00053), (94, 0.00055), (96, 0.00051), (98, 0.0005), (100, 0.00048), (102, 0.00047),
         (104, 0.00045), (106, 0.00046), (108, 0.00043), (110, 0.00042), (112, 0.00044), (114, 0.0004),
         (116, 0.00041), (118, 0.00039), (120, 0.00038), (122, 0.0004), (124, 0.00037), (126, 0.00036),
         (128, 0.00038), (130, 0.00035), (133, 0.00034), (136, 0.00036), (139, 0.00033), (142, 0.00034),
         (145, 0.00032), (148, 0.00033), (151, 0.00031), (154, 0.0003), (157, 0.00032), (160, 0.00029),
         (163, 0.0003), (166, 0.00028), (169, 0.00027), (172, 0.00029), (175, 0.00026), (178, 0.00028),
         (181, 0.00025), (184, 0.00027), (187, 0.00024), (190, 0.00023), (193, 0.00026), (196, 0.00022),
         (199, 0.00025), (202, 0.00023)]

TAU_DOM = [-0.4, 10.2]
DEP_DOM = [-6, 204]
TAU_TICKS = [0, 2, 4, 6, 8, 10]
DEP_TICKS = [0, 50, 100, 150, 200]

# ---------------- helpers ----------------
SERIF_W = {'B': 0.667, 'b': 0.5, 'p': 0.5, 's': 0.389, ',': 0.25, '/': 0.278,
           'm': 0.778, 'Z': 0.611, '*': 0.5, 'k': 0.5}
SANS_W = {'(': 0.333, ')': 0.333, 'm': 0.833, 'g': 0.556, ' ': 0.278, '\u2212': 0.584, '+': 0.584}
ONE = [{"k": 0}]
CROSS = "M-1,0L1,0M0,-1L0,1"


def est_w(t, size, serif):
    table = SERIF_W if serif else SANS_W
    return sum(table.get(c, 0.556) for c in t) * size


def txt(t, x, y, size, font=SANS, weight="normal", style="normal", align="left",
        baseline="alphabetic", angle=0):
    return alt.Chart(alt.Data(values=ONE)).mark_text(
        text=t, font=font, fontSize=size, fontWeight=weight, fontStyle=style, align=align,
        baseline=baseline, angle=angle, color="black").encode(x=alt.value(x), y=alt.value(y))


def rich_center(pieces, cx, base):
    # piece: (text, font, size, weight, style, dy, gap_before_px)
    widths = [p[6] + est_w(p[0], p[2], p[1] == SERIF) for p in pieces]
    x = cx - sum(widths) / 2.0
    out = []
    for p, w in zip(pieces, widths):
        t, font, size, weight, style, dy, gap = p
        out.append(txt(t, x + gap, base + dy, size, font, weight, style))
        x += w
    return out


def hline(x1, x2, y, color, width, dash=None):
    kw = dict(color=color, strokeWidth=width)
    if dash is not None:
        kw["strokeDash"] = dash
    return alt.Chart(alt.Data(values=ONE)).mark_rule(**kw).encode(
        x=alt.value(x1), x2=alt.value(x2), y=alt.value(y))


def bstar(x, y, tail):
    return [txt("b", x, y, 10.5, SERIF, "bold", "italic"),
            txt("*", x + 6, y - 3.5, 6, SERIF),
            txt(tail, x + 6, y + 1.5, 6, SERIF, "bold", "italic")]


def steps(lo, hi, step):
    out, v = [], lo
    while v <= hi + step * 1e-6:
        out.append(round(v, 10))
        v += step
    return out


def panel(letter, curve, pts, kval, xdom, xticks, xfmt, xminor, ydom, yticks, yminor,
          band, zm, zp, row, col, labelexpr=None):
    xs = alt.Scale(domain=xdom, nice=False, zero=False)
    ys = alt.Scale(domain=ydom, nice=False, zero=False, reverse=True)
    xaxis_kw = dict(values=xticks, format=xfmt, title=None, grid=False, domain=False, ticks=False,
                    labelPadding=(6 if row < 2 else 4), labelOverlap=False, labelFlush=False,
                    labelFontSize=14, labelFont=SANS, labelColor="black")
    if labelexpr is not None:
        xaxis_kw["labelExpr"] = labelexpr
    xaxis = alt.Axis(**xaxis_kw)
    yaxis = alt.Axis(values=yticks, format="d", title=None, grid=False, domain=False, ticks=False,
                     labelPadding=3, labelOverlap=False, labelFlush=False,
                     labelFontSize=14, labelFont=SANS, labelColor="black")

    def X(f):
        return alt.X(f, scale=xs, axis=xaxis)

    def Y(f):
        return alt.Y(f, scale=ys, axis=yaxis)

    layers = []
    band_df = pd.DataFrame({"x0": [xdom[0]], "x1": [xdom[1]], "y0": [ydom[0]], "y1": [band]})
    layers.append(alt.Chart(band_df).mark_rect(color=BAND).encode(
        x=X("x0:Q"), x2="x1:Q", y=Y("y0:Q"), y2="y1:Q"))
    pdf = pd.DataFrame(pts, columns=["y", "x"])
    layers.append(alt.Chart(pdf).mark_point(shape=CROSS, filled=False, size=76, strokeWidth=1.1,
                                            color=GREY, opacity=0.9, clip=True).encode(
        x=X("x:Q"), y=Y("y:Q")))
    cdf = pd.DataFrame(curve, columns=["y", "red", "blue", "white"])

    def cline(field, color, width):
        return alt.Chart(cdf).mark_line(color=color, strokeWidth=width, interpolate="catmull-rom",
                                        clip=True).encode(
            x=X(field + ":Q"), y=Y("y:Q"), order=alt.Order("y:Q"))
    layers.append(cline("blue", BLUE, 4))
    layers.append(cline("red", RED, 4))
    if kval is not None:
        kdf = pd.DataFrame({"y": [ydom[0], ydom[1]], "k": [kval, kval]})
        layers.append(alt.Chart(kdf).mark_line(color=PURPLE, strokeWidth=3.5, clip=True).encode(
            x=X("k:Q"), y=Y("y:Q"), order=alt.Order("y:Q")))
    layers.append(cline("white", "white", 1.6))
    layers.append(alt.Chart(pd.DataFrame({"y": [zm]})).mark_rule(
        color=ZM_C, strokeWidth=1.3, strokeDash=[1.5, 2.2]).encode(y=Y("y:Q")))
    layers.append(alt.Chart(pd.DataFrame({"y": [zp]})).mark_rule(
        color=ZP_C, strokeWidth=2, strokeDash=[8, 5]).encode(y=Y("y:Q")))
    # inward ticks on all four sides
    for vals, L in ((xticks, 6), (xminor, 3)):
        tv = [v for v in vals if xdom[0] <= v <= xdom[1]]
        base = alt.Chart(pd.DataFrame({"t": tv})).mark_rule(color=TICK, strokeWidth=1)
        layers.append(base.encode(x=X("t:Q"), y=alt.value(H), y2=alt.value(H - L)))
        layers.append(base.encode(x=X("t:Q"), y=alt.value(0), y2=alt.value(L)))
    for vals, L in ((yticks, 6), (yminor, 3)):
        tv = [v for v in vals if ydom[0] <= v <= ydom[1]]
        base = alt.Chart(pd.DataFrame({"t": tv})).mark_rule(color=TICK, strokeWidth=1)
        layers.append(base.encode(y=Y("t:Q"), x=alt.value(0), x2=alt.value(L)))
        layers.append(base.encode(y=Y("t:Q"), x=alt.value(W), x2=alt.value(W - L)))
    # panel letter
    layers.append(txt("(" + letter + ")", W - 1, 26, 26, SANS, align="right"))
    # column title
    if row == 0:
        layers.append(txt(COL_TITLES[col], W / 2, -5, 19, SANS, align="center"))
    # x axis title
    BI = ("bold", "italic")
    NN = ("normal", "normal")
    if row == 0:
        pcs = [("B", SERIF, 15) + BI + (0, 0), ("/", SERIF, 15) + BI + (0, 4), ("B", SERIF, 15) + BI + (0, 4),
               ("s", SERIF, 10) + BI + (3, 0)]
        layers += rich_center(pcs, W / 2, H + 34)
    elif row == 1:
        pcs = [("b", SERIF, 15) + BI + (0, 0), ("bp", SERIF, 10) + BI + (3, 0),
               ("/", SERIF, 15) + BI + (0, 4), ("b", SERIF, 15) + BI + (0, 4), ("bp,s", SERIF, 10) + BI + (3, 0)]
        layers += rich_center(pcs, W / 2, H + 39)
    elif row == 2:
        pcs = [("B", SERIF, 15) + BI + (0, 0), ("(mg m", SANS, 14) + NN + (0, 4),
               ("\u22123", SANS, 9) + NN + (-6, 0.5), (")", SANS, 14) + NN + (0, 0.5)]
        layers += rich_center(pcs, W / 2, H + 32)
    else:
        pcs = [("b", SERIF, 15) + BI + (0, 0), ("bp", SERIF, 10) + BI + (3, 0), ("(m", SANS, 14) + NN + (0, 4),
               ("\u22121", SANS, 9) + NN + (-6, 0.5), (")", SANS, 14) + NN + (0, 0.5)]
        layers += rich_center(pcs, W / 2 - 14, H + 32)
    # first column: y title and legends
    if col == 0:
        if row < 2:
            layers.append(txt("\u03c4", -39, H / 2, 17, SERIF, align="center", baseline="middle", angle=270))
        else:
            layers.append(txt("Depth (m)", -39, H / 2, 15, SANS, align="center", baseline="middle", angle=270))
        if row == 0:
            layers += [hline(9, 46, 38, ZM_C, 1.3, [1.5, 2.2]), hline(9, 46, 50, ZP_C, 2, [8, 5]),
                       txt("Z", 53, 42, 11.5, SERIF, "normal", "italic"), txt("m", 60, 43.5, 7, SERIF, "normal", "italic"),
                       txt("Z", 53, 54.2, 11.5, SERIF, "normal", "italic"), txt("p", 60, 55.7, 7, SERIF, "normal", "italic")]
            ly = [119, 130, 141]
            layers += [hline(80, 117, ly[0], RED, 4), hline(80, 117, ly[1], BLUE, 4), hline(80, 117, ly[2], "white", 1.6),
                       txt("1", 123, ly[0] + 4, LF), txt("2", 123, ly[1] + 4, LF), txt("1+2", 123, ly[2] + 4, LF)]
        elif row == 1:
            ly = [117, 128, 140, 152]
            layers += [hline(80, 117, ly[0], RED, 4), hline(80, 117, ly[1], BLUE, 4),
                       hline(80, 117, ly[2], PURPLE, 3.5), hline(80, 117, ly[3], "white", 1.6),
                       txt("1", 123, ly[0] + 4, LF), txt("2", 123, ly[1] + 4, LF)]
            layers += bstar(123, ly[2] + 3, "bp,k")
            layers.append(txt("1+2+", 123, ly[3] + 3.5, LF))
            layers += bstar(146, ly[3] + 3.5, "bp,k")
        elif row == 2:
            ly = [124, 135, 146]
            layers += [hline(84, 120, ly[0], RED, 4), hline(84, 120, ly[1], BLUE, 4), hline(84, 120, ly[2], "white", 1.6),
                       txt("1", 126, ly[0] + 4, LF), txt("2", 126, ly[1] + 4, LF), txt("1+2", 126, ly[2] + 4, LF)]
        else:
            ly = [117, 128, 140, 152]
            layers += [hline(84, 120, ly[0], RED, 4), hline(84, 120, ly[1], BLUE, 4),
                       hline(84, 120, ly[2], PURPLE, 3.5), hline(84, 120, ly[3], "white", 1.6),
                       txt("1", 126, ly[0] + 4, LF), txt("2", 126, ly[1] + 4, LF)]
            layers += bstar(126, ly[2] + 3, "bp")
            layers.append(txt("1+2+", 126, ly[3] + 3.5, LF))
            layers += bstar(149, ly[3] + 3.5, "bp")
    return alt.layer(*layers).properties(width=W, height=H)


tau_minor = steps(0, 10, 0.5)
dep_minor = steps(0, 200, 10)
H_EXPR = "datum.value == 0 ? '0' : (datum.value < 0.001 ? '7.5\u00d710\u207b\u2074' : '1.5\u00d710\u207b\u00b3')"

panels = [
    panel("a", a_curve, a_pts, None, [0, 2], steps(0, 2, 0.5), ".1f", steps(0, 2, 0.1),
          TAU_DOM, TAU_TICKS, tau_minor, 0.63, 6.75, 4.5, 0, 0),
    panel("e", e_curve, e_pts, None, [0, 3], steps(0, 3, 0.5), ".1f", steps(0, 3, 0.1),
          TAU_DOM, TAU_TICKS, tau_minor, 0.63, 0.35, 4.5, 0, 1),
    panel("i", i_curve, i_pts, None, [0, 50], steps(0, 50, 10), "d", steps(0, 50, 2),
          TAU_DOM, TAU_TICKS, tau_minor, 0.63, 1.4, 4.5, 0, 2),
    panel("b", b_curve, b_pts, b_kval, [0, 2], steps(0, 2, 0.5), ".1f", steps(0, 2, 0.1),
          TAU_DOM, TAU_TICKS, tau_minor, 0.63, 6.75, 4.5, 1, 0),
    panel("f", f_curve, f_pts, f_kval, [0, 3], steps(0, 3, 0.5), ".1f", steps(0, 3, 0.1),
          TAU_DOM, TAU_TICKS, tau_minor, 0.63, 0.38, 4.5, 1, 1),
    panel("j", j_curve, j_pts, j_kval, [0, 3], steps(0, 3, 0.5), ".1f", steps(0, 3, 0.1),
          TAU_DOM, TAU_TICKS, tau_minor, 0.63, 1.45, 4.5, 1, 2),
    panel("c", c_curve, c_pts, None, [0, 0.4], steps(0, 0.4, 0.1), ".1f", steps(0, 0.4, 0.02),
          DEP_DOM, DEP_TICKS, dep_minor, 15, 141.5, 95, 2, 0),
    panel("g", g_curve, g_pts, None, [0, 0.6], steps(0, 0.6, 0.1), ".1f", steps(0, 0.6, 0.02),
          DEP_DOM, DEP_TICKS, dep_minor, 12.5, 8.2, 74.5, 2, 1),
    panel("k", k_curve, k_pts, None, [0, 0.4], steps(0, 0.4, 0.1), ".1f", steps(0, 0.4, 0.02),
          DEP_DOM, DEP_TICKS, dep_minor, 14, 28.4, 89.5, 2, 2),
    panel("d", d_curve, d_pts, d_kval, [0, 0.001], [0, 0.0005, 0.001], ".4f", steps(0, 0.001, 0.0001),
          DEP_DOM, DEP_TICKS, dep_minor, 15, 141, 94, 3, 0),
    panel("h", h_curve, h_pts, h_kval, [0, 0.0015], [0, 0.00075, 0.0015], ".4f", steps(0, 0.0015, 0.00015),
          DEP_DOM, DEP_TICKS, dep_minor, 11, 8.2, 74.5, 3, 1, labelexpr=H_EXPR),
    panel("l", l_curve, l_pts, l_kval, [0, 0.001], [0, 0.0005, 0.001], ".4f", steps(0, 0.001, 0.0001),
          DEP_DOM, DEP_TICKS, dep_minor, 14.6, 28.4, 88.6, 3, 2),
]

chart = alt.concat(*panels, columns=3, spacing={"row": 56, "column": 51}, bounds="flush",
                   padding={"top": -5, "left": 0, "right": 0, "bottom": 0}).configure_view(
    fill=BG, stroke="#6E6E6E", strokeWidth=1)

chart.save("out.html", embed_options={"renderer": "svg", "actions": False})
